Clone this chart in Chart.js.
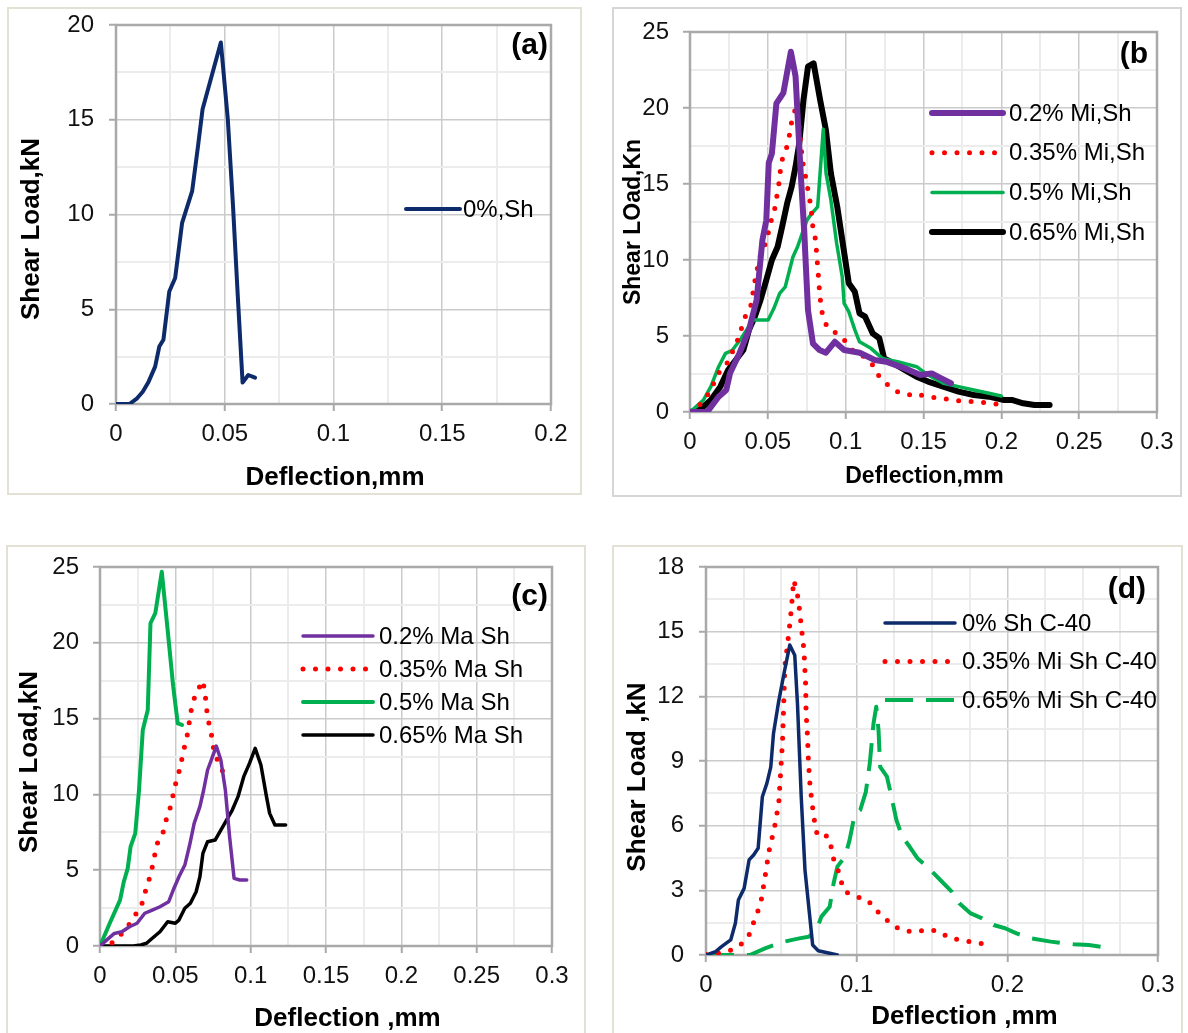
<!DOCTYPE html>
<html>
<head>
<meta charset="utf-8">
<title>Shear load vs deflection</title>
<script src="https://cdn.jsdelivr.net/npm/chart.js@4.4.1/dist/chart.umd.min.js"></script>
<style>
  html, body { margin: 0; padding: 0; background: #fff; }
  #page { position: relative; width: 1188px; height: 1033px; overflow: hidden; background: #fff; }
  .frame { position: absolute; box-sizing: border-box; border: 2px solid #e3e1d3; }
  canvas { position: absolute; }
</style>
</head>
<body>
<div id="page"></div>
<script>
// Each series is a list of [deflection (mm), shear load (kN)] readings

// (a) plain mix
const plain0 = [[0,0],[0.0062,0],[0.0097,0.3],[0.0123,0.65],[0.015,1.18],[0.018,1.97],[0.0199,3.03],[0.0218,3.39],
  [0.0245,5.94],[0.0272,6.65],[0.0304,9.56],[0.035,11.23],[0.0377,13.6],[0.0398,15.55],[0.0482,19.08],[0.0514,15.03],
  [0.0538,10.44],[0.056,5.68],[0.0582,1.13],[0.0608,1.53],[0.0639,1.39]];

// (b) micro fibres
const mi020 = [[0,0],[0.011,0],[0.0184,1.0],[0.0233,1.45],[0.0257,2.55],[0.0318,3.87],[0.0379,5.4],[0.0428,7.37],
  [0.0465,11.3],[0.049,12.6],[0.0506,16.4],[0.0526,17.0],[0.0555,20.3],[0.06,21.0],[0.0648,23.7],[0.0678,22.1],
  [0.0709,16.1],[0.0734,11.8],[0.0758,6.7],[0.079,4.5],[0.0832,4.08],[0.0873,3.9],[0.093,4.62],[0.099,4.08],
  [0.109,3.9],[0.1187,3.42],[0.126,3.31],[0.138,2.87],[0.148,2.43],[0.1553,2.54],[0.1614,2.21],[0.1676,1.89]];
const mi035 = [[0,0],[0.0073,0.57],[0.0122,1.25],[0.0184,2.56],[0.0245,3.31],[0.0306,4.74],[0.0355,6.27],[0.0392,7.04],
  [0.0416,8.57],[0.0445,10.1],[0.0477,10.87],[0.0502,11.75],[0.0519,12.5],[0.0543,13.3],[0.0556,14.08],[0.057,14.93],
  [0.0587,16.47],[0.0617,17.24],[0.0637,18.11],[0.0649,18.9],[0.0666,19.65],[0.0685,20.09],[0.0697,19.2],[0.0715,17.3],
  [0.0729,16.1],[0.0747,15.26],[0.0761,14.39],[0.0776,13.6],[0.0791,11.97],[0.0808,11.3],[0.0813,10.44],[0.082,9.56],
  [0.0827,8.68],[0.0832,7.91],[0.084,7.15],[0.0851,6.38],[0.088,5.61],[0.0942,5.17],[0.1002,4.62],[0.1052,3.96],
  [0.1118,3.64],[0.1174,3.09],[0.1216,2.32],[0.1272,1.78],[0.1333,1.34],[0.1407,1.12],[0.1443,1.23],[0.1504,1.05],
  [0.1578,0.94],[0.1663,0.83],[0.1737,0.72],[0.1823,0.68],[0.1896,0.61],[0.1982,0.5]];
const mi050 = [[0,0],[0.0086,0.79],[0.0134,1.67],[0.0184,2.98],[0.0228,3.86],[0.0269,4.03],[0.033,4.85],[0.0404,6.05],
  [0.0453,6.05],[0.0502,6.05],[0.0539,6.82],[0.0576,7.8],[0.0612,8.24],[0.0661,10.2],[0.0691,10.87],[0.0721,11.75],
  [0.0752,12.63],[0.0783,13.07],[0.082,13.5],[0.0856,18.6],[0.0874,15.7],[0.0905,13.95],[0.0942,11.1],[0.0978,8.9],
  [0.099,7.15],[0.102,6.6],[0.1059,5.4],[0.1089,4.62],[0.1162,4.19],[0.1236,3.53],[0.1333,3.31],[0.1456,2.98],
  [0.1529,2.43],[0.1627,1.89],[0.1725,1.67],[0.1823,1.45],[0.192,1.23],[0.1999,1.05]];
const mi065 = [[0,0],[0.0061,0.13],[0.0134,0.79],[0.0195,1.67],[0.0245,2.76],[0.0294,3.42],[0.0343,4.08],[0.0379,5.4],
  [0.0416,6.27],[0.0453,7.37],[0.049,8.68],[0.0526,10.0],[0.0563,10.87],[0.0592,12.2],[0.0624,13.73],[0.0653,14.82],
  [0.0678,16.14],[0.0702,17.68],[0.0729,20.53],[0.0758,22.72],[0.0794,22.94],[0.0836,20.53],[0.0873,18.55],[0.0905,15.7],
  [0.0946,13.5],[0.0991,10.44],[0.102,8.47],[0.1059,7.91],[0.1089,6.49],[0.1125,6.27],[0.1174,5.17],[0.1216,4.85],
  [0.1247,3.53],[0.1308,3.2],[0.1382,2.76],[0.1455,2.32],[0.1529,2.0],[0.1627,1.67],[0.1725,1.34],[0.1823,1.12],
  [0.192,1.01],[0.2018,0.79],[0.2067,0.79],[0.214,0.57],[0.2213,0.46],[0.231,0.46]];

// (c) macro fibres
const ma020 = [[0,0],[0.0057,0.5],[0.0095,0.83],[0.0145,0.94],[0.0196,1.27],[0.0246,1.5],[0.0297,2.16],[0.0347,2.37],
  [0.0398,2.59],[0.0456,2.92],[0.0486,3.69],[0.0524,4.57],[0.0563,5.34],[0.0595,6.66],[0.0625,8.09],[0.0663,9.19],
  [0.0688,10.29],[0.0714,11.61],[0.0739,12.27],[0.0772,13.19],[0.0802,12.27],[0.0832,10.29],[0.086,7.21],[0.089,4.46],
  [0.0928,4.35],[0.0974,4.35]];
const ma035 = [[0,0],[0.0082,0.22],[0.014,0.77],[0.0191,1.39],[0.0234,2.04],[0.0276,2.7],[0.0297,3.47],[0.0322,4.24],
  [0.0342,5.01],[0.036,5.78],[0.0373,6.66],[0.0415,7.32],[0.0431,8.09],[0.0459,8.86],[0.0479,9.63],[0.0494,10.44],
  [0.0516,11.17],[0.0537,11.99],[0.0552,12.82],[0.0574,13.59],[0.0587,14.4],[0.06,15.24],[0.0613,16.01],[0.0643,16.77],
  [0.0683,17.5],[0.0696,16.71],[0.0706,15.9],[0.0713,15.06],[0.0734,14.29],[0.0747,13.48],[0.0759,12.66],[0.0797,11.94],
  [0.0827,11.21]];
const ma050 = [[0,0],[0.0069,1.6],[0.0133,3.03],[0.0158,4.24],[0.0184,5.12],[0.0203,6.55],[0.0234,7.43],[0.0259,10.29],
  [0.0284,14.25],[0.0317,15.57],[0.0335,21.29],[0.0367,21.95],[0.041,24.69],[0.0449,20.84],[0.0486,17.1],[0.0516,14.68],
  [0.0544,14.58]];
const ma065 = [[0,0],[0.0221,0],[0.0271,0.07],[0.0309,0.18],[0.0347,0.51],[0.0398,0.94],[0.0449,1.6],[0.05,1.5],
  [0.0524,1.71],[0.0563,2.49],[0.06,2.82],[0.0638,3.58],[0.0663,4.57],[0.0683,6.11],[0.0714,6.88],[0.0764,6.99],
  [0.0802,7.65],[0.084,8.31],[0.0878,8.97],[0.0916,9.85],[0.0954,11.17],[0.0992,12.05],[0.103,13.04],[0.1068,11.94],
  [0.1105,9.85],[0.1126,8.75],[0.1161,7.98],[0.1232,7.98]];

// (d) C-40 mixes
const c40plain = [[0,0],[0.0063,0.15],[0.0101,0.38],[0.0164,0.7],[0.0195,1.47],[0.0215,2.55],[0.0253,3.09],[0.0286,4.41],
  [0.0316,4.64],[0.0346,4.95],[0.0374,7.34],[0.0404,7.96],[0.043,8.73],[0.0448,10.28],[0.048,11.67],[0.0518,13.07],
  [0.0556,14.38],[0.0589,13.91],[0.0607,11.67],[0.0632,7.34],[0.0657,3.94],[0.0682,2.24],[0.0708,0.46],[0.0745,0.2],
  [0.0821,0.08],[0.0872,0]];
const c40mi035 = [[0,0.02],[0.0076,0.08],[0.0157,0.2],[0.0228,0.46],[0.0283,0.88],[0.0311,1.42],[0.0341,1.96],[0.0366,2.52],
  [0.0392,3.63],[0.0417,4.79],[0.0455,5.92],[0.0483,7.06],[0.0493,8.2],[0.0508,9.93],[0.0516,11.67],[0.0523,13.37],
  [0.0543,14.53],[0.0561,15.66],[0.0576,16.82],[0.0581,17.39],[0.0599,17.01],[0.0614,16.43],[0.0632,15.27],[0.065,14.15],
  [0.0662,12.42],[0.0664,11.26],[0.0674,10.1],[0.068,8.94],[0.0691,7.81],[0.0711,6.65],[0.0723,6.08],[0.074,5.52],
  [0.0806,5.52],[0.0829,5.06],[0.0845,4.49],[0.0875,3.98],[0.0896,3.43],[0.0921,2.94],[0.0998,2.7],[0.1074,2.55],
  [0.1122,2.12],[0.1181,1.75],[0.124,1.36],[0.1308,1.13],[0.1393,1.08],[0.1474,1.19],[0.155,1.08],[0.1619,0.77],
  [0.1703,0.7],[0.178,0.57],[0.1861,0.5]];
const c40mi065 = [[0,0],[0.0291,0],[0.0392,0.31],[0.0518,0.62],[0.0619,0.77],[0.0682,0.85],[0.0733,1.16],[0.0766,1.78],
  [0.0821,2.24],[0.0847,3.33],[0.0872,4.1],[0.0923,4.56],[0.0953,5.33],[0.0986,6.49],[0.1024,6.73],[0.1061,7.57],
  [0.1087,8.89],[0.1112,10.75],[0.113,11.52],[0.1145,10.44],[0.1156,8.73],[0.1201,8.27],[0.1226,7.5],[0.1264,6.26],
  [0.1302,5.49],[0.1352,5.02],[0.1403,4.49],[0.1479,4.02],[0.1555,3.48],[0.1631,2.94],[0.1681,2.4],[0.1757,1.93],
  [0.1833,1.7],[0.1909,1.39],[0.1985,1.24],[0.2061,1.0],[0.2162,0.77],[0.2288,0.62],[0.244,0.5],[0.2541,0.46],
  [0.2642,0.36]];

const FONT = "'Liberation Sans', Arial, Helvetica, sans-serif";
const PAGE_H = 1033;

// line looks
const solid = (color, width) => ({ borderColor: color, borderWidth: width, borderDash: [], borderCapStyle: 'round' });
const dotted = color => ({ borderColor: color, borderWidth: 5, borderDash: [0, 12.5], borderCapStyle: 'round' });
const dashed = color => ({ borderColor: color, borderWidth: 4, borderDash: [28, 13], borderCapStyle: 'butt' });

const panels = [
  {
    tag: '(a)', xTitle: 'Deflection,mm', yTitle: 'Shear Load,kN', titleSize: 26,
    x: { max: 0.2, major: 0.05, minor: 0.025 }, y: { max: 20, major: 5, minor: 2.5 },
    frame: [7, 7, 575, 488], frameColor: '#e3e1d3',
    plot: [116, 25, 551, 404], yGap: 15,
    xTitleAt: [335, 478], yTitleAt: [31.5, 229], tagAt: [548, 46],
    legend: { x0: 406, x1: 460, tx: 463, y0: 209, dy: 0 },
    series: [{ label: '0%,Sh', data: plain0, look: solid('#0d2a6a', 4) }]
  },
  {
    tag: '(b', xTitle: 'Deflection,mm', yTitle: 'Shear LOad,Kn', titleSize: 23,
    x: { max: 0.3, major: 0.05, minor: 0.025 }, y: { max: 25, major: 5, minor: 2.5 },
    frame: [612, 7, 570, 490], frameColor: '#d6d6d6',
    plot: [690, 32, 1157, 412], yGap: 14,
    xTitleAt: [924.5, 477], yTitleAt: [634, 222], tagAt: [1148, 55],
    legend: { x0: 932, x1: 1003, tx: 1009, y0: 113, dy: 39.7 },
    series: [
      { label: '0.2% Mi,Sh', data: mi020, look: solid('#7030a0', 6) },
      { label: '0.35% Mi,Sh', data: mi035, look: dotted('#ff0000') },
      { label: '0.5% Mi,Sh', data: mi050, look: solid('#00b050', 3.5) },
      { label: '0.65% Mi,Sh', data: mi065, look: solid('#000000', 6) }
    ]
  },
  {
    tag: '(c)', xTitle: 'Deflection ,mm', yTitle: 'Shear Load,kN', titleSize: 26,
    x: { max: 0.3, major: 0.05, minor: 0.025 }, y: { max: 25, major: 5, minor: 2.5 },
    frame: [6, 545, 580, 494], frameColor: '#e3e1d3',
    plot: [100, 567, 552, 946], yGap: 14,
    xTitleAt: [347.5, 1019], yTitleAt: [29.5, 762], tagAt: [548, 597],
    legend: { x0: 303, x1: 373, tx: 379, y0: 636, dy: 33 },
    series: [
      { label: '0.2% Ma Sh', data: ma020, look: solid('#7030a0', 3.5) },
      { label: '0.35% Ma Sh', data: ma035, look: dotted('#ff0000') },
      { label: '0.5% Ma Sh', data: ma050, look: solid('#00b050', 4) },
      { label: '0.65% Ma Sh', data: ma065, look: solid('#000000', 3.5) }
    ]
  },
  {
    tag: '(d)', xTitle: 'Deflection ,mm', yTitle: 'Shear Load ,kN', titleSize: 26,
    x: { max: 0.3, major: 0.1, minor: 0.025 }, y: { max: 18, major: 3, minor: 1.5 },
    frame: [612, 545, 571, 494], frameColor: '#e3e1d3',
    plot: [706, 567, 1158, 955], yGap: 15,
    xTitleAt: [964.5, 1017], yTitleAt: [638, 777], tagAt: [1146, 590],
    legend: { x0: 885, x1: 955, tx: 962, y0: 623, dy: 38.5 },
    series: [
      { label: '0% Sh C-40', data: c40plain, look: solid('#0d2a6a', 3.5) },
      { label: '0.35% Mi Sh C-40', data: c40mi035, look: dotted('#ff0000') },
      { label: '0.65% Mi Sh C-40', data: c40mi065, look: dashed('#00b050') }
    ]
  }
];

// canvas spans the panel plus some slack above and to the right, so that
// the scale paddings never push the plotting area around
panels.forEach(p => {
  const [fx, fy, fw, fh] = p.frame;
  const [, pt, pr] = p.plot;
  const top = pt - 45;
  const right = Math.max(pr + 45, fx + fw);
  const bottom = Math.min(fy + fh, PAGE_H);
  p.canvas = [fx, top, right - fx, bottom - top];
});

const isMajor = (v, step) => Math.abs(v / step - Math.round(v / step)) < 1e-6;
const fmt = v => String(Math.round(v * 10000) / 10000);

// box around the plotting area
const plotBox = {
  id: 'plotBox',
  beforeDatasetsDraw(chart) {
    const { ctx, chartArea: a } = chart;
    ctx.save();
    ctx.strokeStyle = '#a9a9a9';
    ctx.lineWidth = 2.5;
    ctx.strokeRect(a.left, a.top, a.right - a.left, a.bottom - a.top);
    ctx.restore();
  }
};

// in-plot legend, panel tag and axis captions
const panelText = {
  id: 'panelText',
  afterDraw(chart, args, opts) {
    const p = opts.panel;
    const ox = p.canvas[0], oy = p.canvas[1];
    const ctx = chart.ctx;
    ctx.save();
    ctx.fillStyle = '#000';

    // legend rows
    chart.data.datasets.forEach((ds, i) => {
      const y = p.legend.y0 + i * p.legend.dy - oy;
      ctx.save();
      ctx.strokeStyle = ds.borderColor;
      ctx.lineWidth = ds.borderWidth;
      ctx.lineCap = ds.borderCapStyle;
      ctx.setLineDash(ds.borderDash);
      ctx.beginPath();
      ctx.moveTo(p.legend.x0 - ox, y);
      ctx.lineTo(p.legend.x1 - ox, y);
      ctx.stroke();
      ctx.restore();
      ctx.font = '24px ' + FONT;
      ctx.textAlign = 'left';
      ctx.textBaseline = 'middle';
      ctx.fillText(ds.label, p.legend.tx - ox, y + 1);
    });

    // panel tag
    ctx.font = 'bold 30px ' + FONT;
    ctx.textAlign = 'right';
    ctx.textBaseline = 'middle';
    ctx.fillText(p.tag, p.tagAt[0] - ox, p.tagAt[1] - oy);

    // axis captions
    ctx.font = 'bold ' + p.titleSize + 'px ' + FONT;
    ctx.textAlign = 'center';
    ctx.fillText(p.xTitle, p.xTitleAt[0] - ox, p.xTitleAt[1] - oy);
    ctx.translate(p.yTitleAt[0] - ox, p.yTitleAt[1] - oy);
    ctx.rotate(-Math.PI / 2);
    ctx.fillText(p.yTitle, 0, 0);
    ctx.restore();
  }
};

function axis(spec, extra) {
  return Object.assign({
    type: 'linear',
    min: 0,
    max: spec.max,
    ticks: {
      stepSize: spec.minor,
      autoSkip: false,
      maxRotation: 0,
      minRotation: 0,
      color: '#111',
      font: { family: FONT, size: 24 },
      callback: v => isMajor(v, spec.major) ? fmt(v) : ''
    },
    grid: {
      color: c => isMajor(c.tick.value, spec.major) ? '#cbcbcb' : '#ececec',
      lineWidth: c => isMajor(c.tick.value, spec.major) ? 1.5 : 2,
      tickColor: c => isMajor(c.tick.value, spec.major) ? '#a9a9a9' : 'rgba(0,0,0,0)',
      tickWidth: 2,
      tickLength: 7
    },
    border: { display: false },
    title: { display: false }
  }, extra);
}

const page = document.getElementById('page');

panels.forEach(p => {
  const fr = document.createElement('div');
  fr.className = 'frame';
  fr.style.left = p.frame[0] + 'px';
  fr.style.top = p.frame[1] + 'px';
  fr.style.width = p.frame[2] + 'px';
  fr.style.height = p.frame[3] + 'px';
  fr.style.borderColor = p.frameColor;
  page.appendChild(fr);
});

panels.forEach(p => {
  const [cx, cy, cw, ch] = p.canvas;
  const [pl, pt, pr, pb] = p.plot;
  const cv = document.createElement('canvas');
  cv.width = cw;
  cv.height = ch;
  cv.style.left = cx + 'px';
  cv.style.top = cy + 'px';
  page.appendChild(cv);

  const xAxis = axis(p.x, { afterFit: s => { s.height = cy + ch - pb; } });
  xAxis.ticks.padding = 9;
  const yAxis = axis(p.y, { afterFit: s => { s.width = pl - cx; } });
  yAxis.ticks.padding = p.yGap;

  new Chart(cv, {
    type: 'line',
    data: {
      datasets: p.series.map(s => Object.assign({
        label: s.label,
        data: s.data.map(([x, y]) => ({ x, y })),
        pointRadius: 0,
        borderJoinStyle: 'round',
        tension: 0,
        fill: false
      }, s.look))
    },
    options: {
      responsive: false,
      animation: false,
      devicePixelRatio: 1,
      events: [],
      parsing: false,
      layout: { padding: { left: 0, top: pt - cy, right: cx + cw - pr, bottom: 0 } },
      scales: { x: xAxis, y: yAxis },
      plugins: {
        legend: { display: false },
        tooltip: { enabled: false },
        panelText: { panel: p }
      }
    },
    plugins: [plotBox, panelText]
  });
});
</script>
</body>
</html>
